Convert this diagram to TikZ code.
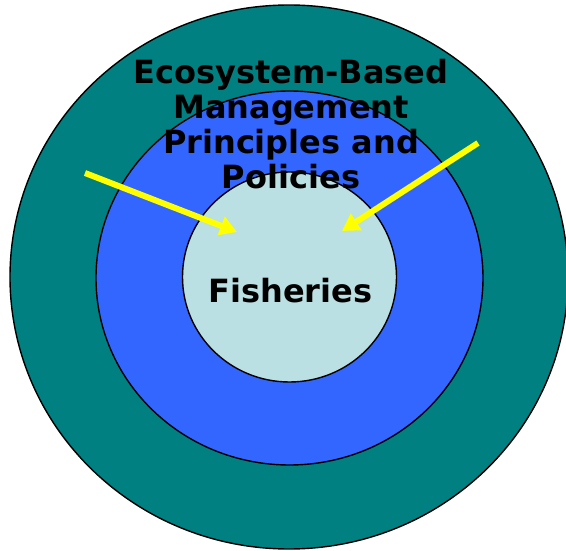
\documentclass[tikz,border=0pt]{standalone}
\usepackage{fontspec}
\setmainfont{DejaVu Sans}
\usetikzlibrary{arrows.meta}
\definecolor{ringteal}{RGB}{0,128,128}
\definecolor{ringblue}{RGB}{51,102,255}
\definecolor{corecyan}{RGB}{187,224,227}
\definecolor{arrowyellow}{RGB}{255,255,0}
\begin{document}
\begin{tikzpicture}[x=1pt,y=-1pt,
  ring/.style={draw=black,line width=1.4pt},
  label/.style={font=\bfseries\fontsize{32}{35}\selectfont,text=black,inner sep=0pt},
  push/.style={draw=arrowyellow,line width=6pt,
    -{Triangle[length=17pt,width=19pt,fill=arrowyellow]}}]
  \useasboundingbox (0,0) rectangle (566,551);
  \clip (0,0) rectangle (566,551);
  % three nested regions
  \filldraw[ring,fill=ringteal] (289,277) ellipse [x radius=279,y radius=272];
  \filldraw[ring,fill=ringblue] (289.5,278) ellipse [x radius=193.5,y radius=187];
  \filldraw[ring,fill=corecyan] (289.5,277) ellipse [x radius=107,y radius=105];
  % arrows pointing into the core
  \coordinate (lstart) at (85,173);
  \coordinate (lend) at (237,232);
  \coordinate (rstart) at (478,143);
  \coordinate (rend) at (342,231);
  \draw[push] (lstart) -- (lend);
  \draw[push] (rstart) -- (rend);
  % labels
  \node[label,align=center,anchor=north] (policies) at (291,59)
    {Ecosystem-Based\\Management\\Principles and\\Policies};
  \node[label,anchor=base] (fisheries) at (290.5,302) {Fisheries};
\end{tikzpicture}
\end{document}
